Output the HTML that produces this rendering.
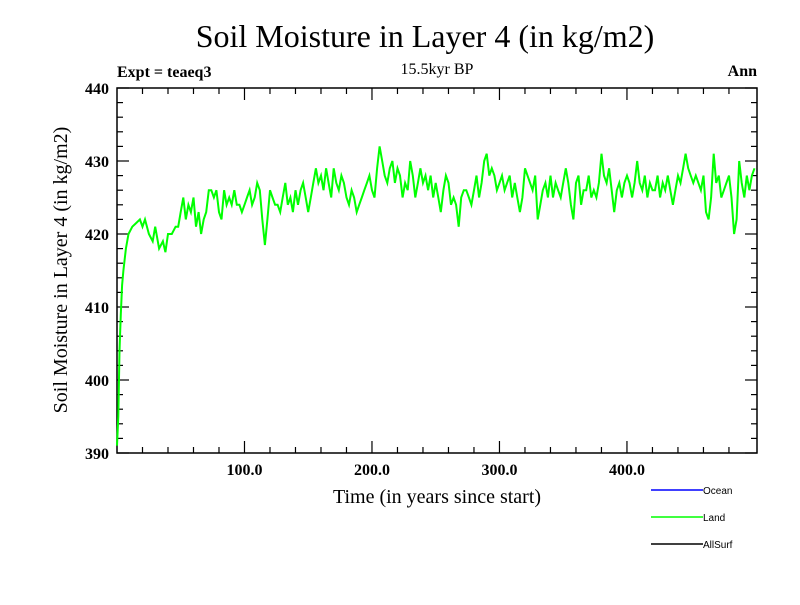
<!DOCTYPE html>
<html><head><meta charset="utf-8"><style>
body{margin:0;background:#fff;width:800px;height:600px;overflow:hidden}
svg text{font-family:"Liberation Serif",serif}
</style></head><body>
<svg id="chart" width="800" height="600">
<text x="425" y="47" font-size="32" text-anchor="middle">Soil Moisture in Layer 4 (in kg/m2)</text>
<text x="117" y="77" font-size="16" font-weight="bold">Expt = teaeq3</text>
<text x="437" y="74" font-size="16" text-anchor="middle">15.5kyr BP</text>
<text x="757" y="76" font-size="16" font-weight="bold" text-anchor="end">Ann</text>
<text x="437" y="503" font-size="20" text-anchor="middle">Time (in years since start)</text>
<text transform="translate(67,270) rotate(-90)" font-size="20" text-anchor="middle">Soil Moisture in Layer 4 (in kg/m2)</text>
<g id="axes"></g>
<rect x="117" y="88" width="640" height="365" fill="none" stroke="#000" stroke-width="1.5"/>
<g>
<line x1="651" y1="490" x2="703" y2="490" stroke="#0000ff" stroke-width="1.5"/>
<text x="703" y="494" font-size="10" style="font-family:'Liberation Sans',sans-serif">Ocean</text>
<line x1="651" y1="517" x2="703" y2="517" stroke="#00ff00" stroke-width="1.5"/>
<text x="703" y="521" font-size="10" style="font-family:'Liberation Sans',sans-serif">Land</text>
<line x1="651" y1="544" x2="703" y2="544" stroke="#000" stroke-width="1.5"/>
<text x="703" y="548" font-size="10" style="font-family:'Liberation Sans',sans-serif">AllSurf</text>
</g>
</svg>
<script>
const xTicks=[100,200,300,400];
const xTickLabels=["100.0","200.0","300.0","400.0"];
const yTicks=[390,400,410,420,430,440];
const years=[0,1,2,3,4,5,7,9,12,15,18,20,22,25,28,30,33,36,38,40,43,46,48,50,52,54,56,58,60,62,64,66,68,70,72,74,76,78,80,82,84,86,88,90,92,94,96,98,100,102,104,106,108,110,112,114,116,118,120,122,124,126,128,130,132,134,136,138,140,142,144,146,148,150,152,154,156,158,160,162,164,166,168,170,172,174,176,178,180,182,184,186,188,190,192,194,196,198,200,202,204,206,208,210,212,214,216,218,220,222,224,226,228,230,232,234,236,238,240,242,244,246,248,250,252,254,256,258,260,262,264,266,268,270,272,274,276,278,280,282,284,286,288,290,292,294,296,298,300,302,304,306,308,310,312,314,316,318,320,322,324,326,328,330,332,334,336,338,340,342,344,346,348,350,352,354,356,358,360,362,364,366,368,370,372,374,376,378,380,382,384,386,388,390,392,394,396,398,400,402,404,406,408,410,412,414,416,418,420,422,424,426,428,430,432,434,436,438,440,442,444,446,448,450,452,454,456,458,460,462,464,466,468,470,472,474,476,478,480,482,484,486,488,490,492,494,496,498,500];
const land=[391,395,404,409,413,415,418,420,421,421.5,422,421,422,420,419,421,418,419,417.5,420,420,421,421,423,425,422,424,423,425,421,423,420,422,423,426,426,425,426,423,422,426,424,425,424,426,424,424,423,424,425,426,424,425,427,426,422,418.5,422,426,425,424,424,423,425,427,424,425,423,426,424,426,427,425,423,425,427,429,427,428,426,429,427,425,429,427,426,428,427,425,424,426,425,423,424,425,426,427,428,426,425,429,432,430,428,427,429,430,427,429,428,425,427,426,430,428,425,427,429,427,428,426,428,425,427,425,423,426,428,427,424,425,424,421,425,426,426,425,424,426,428,425,427,430,431,428,429,428,426,427,428,426,427,428,425,427,425,423,425,429,428,427,426,428,422,424,426,427,425,428,425,427,426,425,427,429,427,424,422,427,428,424,426,426,428,425,426,425,427,431,428,427,429,426,423,426,427,425,427,428,427,425,427,430,427,426,428,425,427,426,426,428,425,427,426,428,426,424,426,428,427,429,431,429,428,427,428,427,426,428,423,422,425,431,427,428,425,426,427,428,425,420,422,430,427,425,428,426,428,429];
const X0=117,X1=757,Y0=453,Y1=88;
const xs=v=>X0+(v-0)/(502-0)*(X1-X0);
const ys=v=>Y0-(v-390)/(440-390)*(Y0-Y1);
const NS="http://www.w3.org/2000/svg";
const svg=document.getElementById('chart');
const g=document.getElementById('axes');
function ln(x1,y1,x2,y2,n){const l=document.createElementNS(NS,'line');l.setAttribute('x1',x1);l.setAttribute('y1',y1);l.setAttribute('x2',x2);l.setAttribute('y2',y2);l.setAttribute('stroke','#000');l.setAttribute('stroke-width','1.2');


g.appendChild(l);}
for(let v=390;v<=440;v+=2){const y=ys(v);const major=(v%10===0);ln(X0,y,X0+(major?12:6),y,'y-tick');ln(X1,y,X1-(major?12:6),y,'y-tick-right');}
for(let t=20;t<500;t+=20){const x=xs(t);const major=(t%100===0);ln(x,Y0,x,Y0-(major?12:6),'x-tick');ln(x,Y1,x,Y1+(major?12:6),'x-tick-top');}
yTicks.forEach(v=>{const t=document.createElementNS(NS,'text');t.setAttribute('x',X0-8);t.setAttribute('y',ys(v)+6);t.setAttribute('font-size','16');t.setAttribute('font-weight','bold');t.setAttribute('text-anchor','end');t.textContent=v;


g.appendChild(t);});
xTicks.forEach((v,i)=>{const t=document.createElementNS(NS,'text');t.setAttribute('x',xs(v));t.setAttribute('y',475);t.setAttribute('font-size','16');t.setAttribute('font-weight','bold');t.setAttribute('text-anchor','middle');t.textContent=xTickLabels[i];


g.appendChild(t);});
const p=document.createElementNS(NS,'polyline');
p.setAttribute('points',years.map((y,i)=>xs(y).toFixed(1)+','+ys(land[i]).toFixed(1)).join(' '));
p.setAttribute('fill','none');p.setAttribute('stroke','#00ff00');p.setAttribute('stroke-width','2');


svg.appendChild(p);
</script>
</body></html>
